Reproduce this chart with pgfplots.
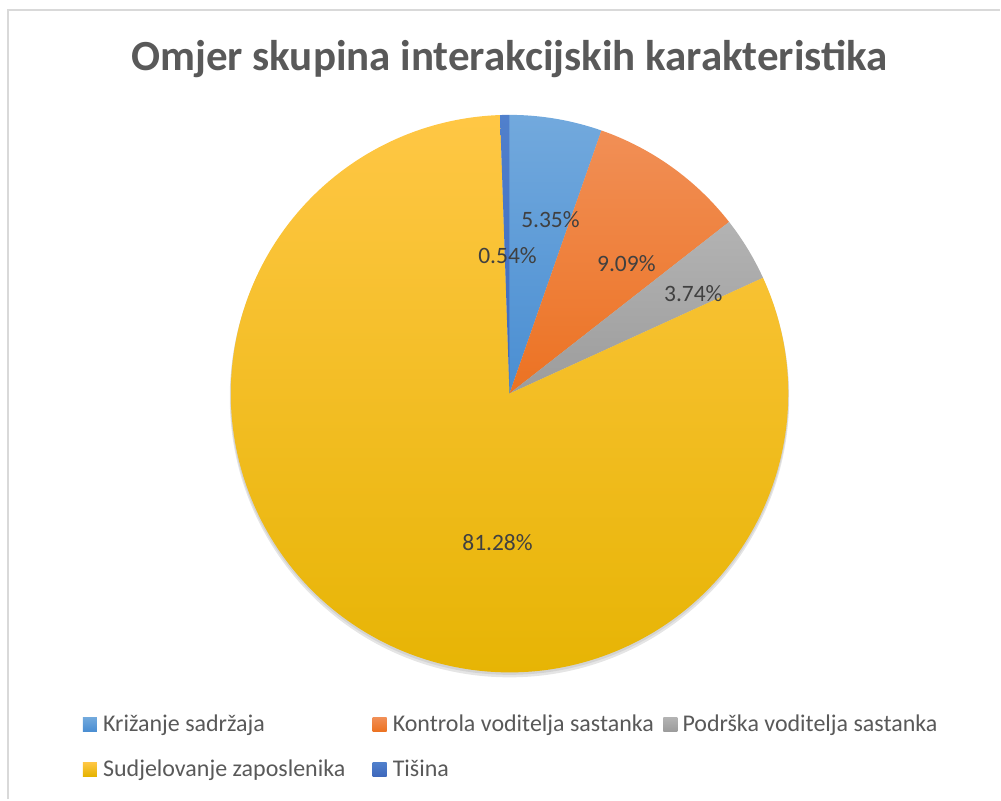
\documentclass[border=0pt]{standalone}
\usepackage{pgfplots}
\pgfplotsset{compat=1.18}
\usepackage{fontspec}
\setmainfont{Carlito}
\definecolor{titlec}{HTML}{595959}
\definecolor{labc}{HTML}{404040}
\definecolor{frame}{HTML}{D9D9D9}
\definecolor{blueT}{HTML}{72A9DD}
\definecolor{blueB}{HTML}{4A8ED2}
\definecolor{oranT}{HTML}{F18F56}
\definecolor{oranB}{HTML}{EC7222}
\definecolor{greyT}{HTML}{B3B3B3}
\definecolor{greyB}{HTML}{9C9C9C}
\definecolor{goldT}{HTML}{FFC745}
\definecolor{goldB}{HTML}{E5B300}
\definecolor{dblueT}{HTML}{5080CC}
\definecolor{dblueB}{HTML}{3E68BC}
% data (percent)
\def\vA{5.35}\def\vB{9.09}\def\vC{3.74}\def\vD{81.28}\def\vE{0.54}
\pgfmathsetmacro\aA{90}
\pgfmathsetmacro\aB{\aA-3.6*\vA}
\pgfmathsetmacro\aC{\aB-3.6*\vB}
\pgfmathsetmacro\aD{\aC-3.6*\vC}
\pgfmathsetmacro\aE{\aD-3.6*\vD}
\pgfmathsetmacro\aF{\aE-3.6*\vE}
\begin{document}
\begin{tikzpicture}
\begin{axis}[scale only axis, width=1001bp, height=800bp,
  xmin=0, xmax=1001, ymin=0, ymax=800, y dir=reverse,
  hide axis, clip=false]
% page extent
\path (axis cs:0,0) rectangle (axis cs:1001,800);
% frame
\draw[frame, line width=2bp] (axis cs:8,800) -- (axis cs:8,10) -- (axis cs:1001,10);
% title
\node[anchor=base, text=titlec, font=\fontsize{43bp}{50bp}\selectfont\bfseries] at (axis cs:510,71) {Omjer skupina interakcijskih karakteristika};
% shadow
\fill[black, opacity=0.10] (axis cs:510,398) circle[radius=280bp];
\fill[black, opacity=0.08] (axis cs:510,396) circle[radius=279.5bp];
% slices
\path[top color=blueT, bottom color=blueB] (axis cs:510,394) -- ++(\aA:279bp) arc[start angle=\aA, end angle=\aB, radius=279bp] -- cycle;
\path[top color=oranT, bottom color=oranB] (axis cs:510,394) -- ++(\aB:279bp) arc[start angle=\aB, end angle=\aC, radius=279bp] -- cycle;
\path[top color=greyT, bottom color=greyB] (axis cs:510,394) -- ++(\aC:279bp) arc[start angle=\aC, end angle=\aD, radius=279bp] -- cycle;
\path[top color=goldT, bottom color=goldB] (axis cs:510,394) -- ++(\aD:279bp) arc[start angle=\aD, end angle=\aE, radius=279bp] -- cycle;
\path[top color=dblueT, bottom color=dblueB] (axis cs:510,394) -- ++(\aE:279bp) arc[start angle=\aE, end angle=\aF, radius=279bp] -- cycle;
% data labels
\begin{scope}[every node/.style={text=labc, font=\fontsize{23.5bp}{28bp}\selectfont, inner sep=0pt}]
\node at (axis cs:551,220) {5.35\%};
\node at (axis cs:627,264) {9.09\%};
\node at (axis cs:694,294) {3.74\%};
\node at (axis cs:508,256) {0.54\%};
\node at (axis cs:498,543) {81.28\%};
\end{scope}
% legend
\begin{scope}[every node/.style={text=titlec, font=\fontsize{24bp}{28bp}\selectfont, inner sep=0pt, anchor=base west}]
\path[top color=blueT, bottom color=blueB] (axis cs:83,718) rectangle (axis cs:97,732);
\node at (axis cs:103,732) {Križanje sadržaja};
\path[top color=oranT, bottom color=oranB] (axis cs:373,718) rectangle (axis cs:387,732);
\node at (axis cs:393,732) {Kontrola voditelja sastanka};
\path[top color=greyT, bottom color=greyB] (axis cs:664,718) rectangle (axis cs:678,732);
\node at (axis cs:683,732) {Podrška voditelja sastanka};
\path[top color=goldT, bottom color=goldB] (axis cs:83,763) rectangle (axis cs:97,777);
\node at (axis cs:103,777) {Sudjelovanje zaposlenika};
\path[top color=dblueT, bottom color=dblueB] (axis cs:373,763) rectangle (axis cs:387,777);
\node at (axis cs:393,777) {Tišina};
\end{scope}
\end{axis}
\end{tikzpicture}
\end{document}
